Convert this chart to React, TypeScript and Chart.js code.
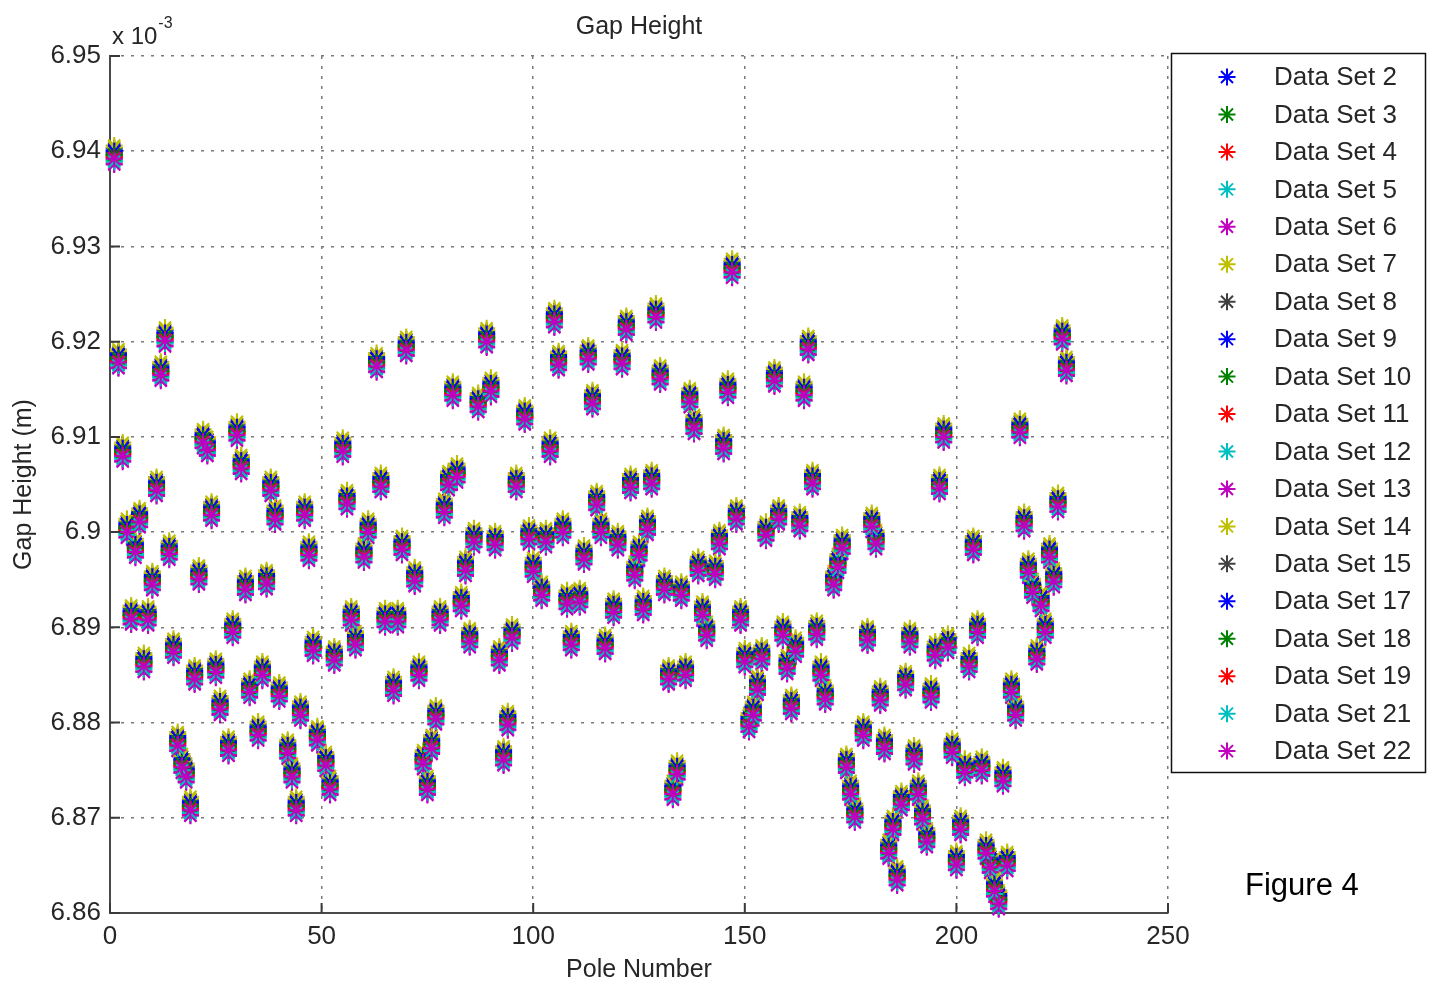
import React, { useEffect, useRef } from "react";
import { Chart, registerables } from "chart.js";

Chart.register(...registerables);

const FONT = '"Liberation Sans", Arial, Helvetica, sans-serif';

// Pole index along the magnet array
const poleNumbers = [
  1, 2, 3, 4, 5, 6, 7, 8, 9, 10, 11, 12, 13, 14, 15, 16, 17, 18, 19, 20,
  21, 22, 23, 24, 25, 26, 28, 29, 30, 31, 32, 33, 35, 36, 37, 38, 39, 40, 42, 43,
  44, 45, 46, 47, 48, 49, 51, 52, 53, 55, 56, 57, 58, 60, 61, 63, 64, 65, 67, 68,
  69, 70, 72, 73, 74, 75, 76, 77, 78, 79, 80, 81, 82, 83, 84, 85, 86, 87, 89, 90,
  91, 92, 93, 94, 95, 96, 98, 99, 100, 102, 103, 104, 105, 106, 107, 108, 109, 111, 112, 113,
  114, 115, 116, 117, 119, 120, 121, 122, 123, 124, 125, 126, 127, 128, 129, 130, 131, 132, 133, 134,
  135, 136, 137, 138, 139, 140, 141, 143, 144, 145, 146, 147, 148, 149, 150, 151, 152, 153, 154, 155,
  157, 158, 159, 160, 161, 162, 163, 164, 165, 166, 167, 168, 169, 171, 172, 173, 174, 175, 176, 178,
  179, 180, 181, 182, 183, 184, 185, 186, 187, 188, 189, 190, 191, 192, 193, 194, 195, 196, 197, 198,
  199, 200, 201, 202, 203, 204, 205, 206, 207, 208, 209, 210, 211, 212, 213, 214, 215, 216, 217, 218,
  219, 220, 221, 222, 223, 224, 225, 226,
];

// Mean gap height at each pole (x 10^-3 m)
const gapHeight = [
  6.9394, 6.918, 6.9082, 6.9002, 6.8911, 6.8981, 6.9013, 6.8861, 6.891, 6.8947,
  6.9046, 6.9167, 6.9203, 6.8979, 6.8876, 6.8778, 6.8755, 6.8745, 6.871, 6.8848,
  6.8953, 6.9096, 6.9088, 6.902, 6.8855, 6.8816, 6.8773, 6.8897, 6.9104, 6.9069,
  6.8942, 6.8834, 6.8789, 6.8852, 6.8948, 6.9046, 6.9016, 6.883, 6.877, 6.8745,
  6.871, 6.881, 6.902, 6.8978, 6.8878, 6.8784, 6.8757, 6.8732, 6.8868, 6.9087,
  6.9032, 6.891, 6.8884, 6.8976, 6.9002, 6.9176, 6.905, 6.8908, 6.8836, 6.8908,
  6.8984, 6.9193, 6.8951, 6.8852, 6.8759, 6.8732, 6.8775, 6.8806, 6.891, 6.9023,
  6.9052, 6.9146, 6.906, 6.8925, 6.8962, 6.8887, 6.8992, 6.9134, 6.9202, 6.915,
  6.8989, 6.8868, 6.8763, 6.88, 6.8891, 6.905, 6.9121, 6.8995, 6.8961, 6.8936,
  6.8992, 6.9087, 6.9223, 6.9178, 6.9002, 6.8927, 6.8884, 6.8929, 6.8974, 6.9184,
  6.9137, 6.9031, 6.9002, 6.888, 6.8918, 6.8989, 6.9179, 6.9215, 6.9049, 6.8957,
  6.8978, 6.8921, 6.9005, 6.9053, 6.9228, 6.9163, 6.8942, 6.8848, 6.8727, 6.8748,
  6.8936, 6.8852, 6.9139, 6.9111, 6.8962, 6.8915, 6.8894, 6.8958, 6.899, 6.909,
  6.9149, 6.9275, 6.9016, 6.891, 6.8866, 6.8798, 6.881, 6.8837, 6.8869, 6.8999,
  6.9161, 6.9016, 6.8894, 6.8859, 6.8817, 6.8877, 6.9009, 6.9146, 6.9194, 6.9053,
  6.8895, 6.8852, 6.8827, 6.8947, 6.8965, 6.8985, 6.8755, 6.8727, 6.8703, 6.8789,
  6.8889, 6.9008, 6.899, 6.8826, 6.8775, 6.8665, 6.869, 6.8637, 6.8716, 6.8842,
  6.8887, 6.8764, 6.8727, 6.8701, 6.8677, 6.8829, 6.8873, 6.9048, 6.9102, 6.8881,
  6.8771, 6.8653, 6.869, 6.875, 6.8861, 6.8984, 6.8897, 6.8752, 6.8665, 6.865,
  6.8625, 6.8612, 6.8741, 6.8652, 6.8834, 6.881, 6.9107, 6.9009, 6.896, 6.8939,
  6.8869, 6.8925, 6.8897, 6.8976, 6.895, 6.9029, 6.9205, 6.9172,
];

const dataSetNames = [
  "Data Set 2", "Data Set 3", "Data Set 4", "Data Set 5", "Data Set 6",
  "Data Set 7", "Data Set 8", "Data Set 9", "Data Set 10", "Data Set 11",
  "Data Set 12", "Data Set 13", "Data Set 14", "Data Set 15", "Data Set 17",
  "Data Set 18", "Data Set 19", "Data Set 21", "Data Set 22",
];

// Run-to-run shift of each data set relative to the pole mean (x 10^-3 m)
const dataSetShift = [
  0.0009, 0.0004, 0.0001, -0.0004, -0.0008, 0.0012, 0.0005, 0.0007, 0.0003, 0.0,
  -0.0003, -0.0007, 0.001, 0.0002, 0.0006, 0.0002, -0.0001, -0.0005, -0.0002,
];

const dataSetColors = [
  "#0000ff", "#008000", "#ff0000", "#00bfbf", "#bf00bf", "#bfbf00", "#404040",
  "#0000ff", "#008000", "#ff0000", "#00bfbf", "#bf00bf", "#bfbf00", "#404040",
  "#0000ff", "#008000", "#ff0000", "#00bfbf", "#bf00bf",
];

const xTicks = [0, 50, 100, 150, 200, 250];
const yTicks = [6.86, 6.87, 6.88, 6.89, 6.9, 6.91, 6.92, 6.93, 6.94, 6.95];

const W = 1434;
const H = 986;

function drawStar(ctx: CanvasRenderingContext2D, x: number, y: number, r: number) {
  ctx.beginPath();
  for (let k = 0; k < 4; k++) {
    const a = (k * Math.PI) / 4;
    const dx = Math.cos(a) * r;
    const dy = Math.sin(a) * r;
    ctx.moveTo(x - dx, y - dy);
    ctx.lineTo(x + dx, y + dy);
  }
  ctx.stroke();
}

const decorations = {
  id: "decorations",
  afterDraw(chart: any) {
    const { ctx, chartArea: a, scales } = chart;
    ctx.save();

    // inward tick marks on the left and bottom axes
    ctx.strokeStyle = "#3a3a3a";
    ctx.lineWidth = 2;
    ctx.beginPath();
    yTicks.forEach((v) => {
      const y = scales.y.getPixelForValue(v);
      ctx.moveTo(a.left, y);
      ctx.lineTo(a.left + 10, y);
    });
    xTicks.forEach((v) => {
      const x = scales.x.getPixelForValue(v);
      ctx.moveTo(x, a.bottom);
      ctx.lineTo(x, a.bottom - 10);
    });
    ctx.stroke();

    // titles
    const cx = (a.left + a.right) / 2;
    ctx.fillStyle = "#262626";
    ctx.font = `25px ${FONT}`;
    ctx.textAlign = "center";
    ctx.textBaseline = "middle";
    ctx.fillText("Gap Height", cx, 27);
    ctx.fillText("Pole Number", cx, 970);
    ctx.save();
    ctx.translate(24, (a.top + a.bottom) / 2);
    ctx.rotate(-Math.PI / 2);
    ctx.fillText("Gap Height (m)", 0, 0);
    ctx.restore();

    // axis multiplier
    ctx.textAlign = "left";
    ctx.textBaseline = "alphabetic";
    ctx.font = `24px ${FONT}`;
    ctx.fillText("x 10", 112, 44);
    const w = ctx.measureText("x 10").width;
    ctx.font = `16px ${FONT}`;
    ctx.fillText("-3", 112 + w + 1, 28);

    // legend
    const lx = 1171;
    const ly = 53;
    ctx.fillStyle = "#ffffff";
    ctx.fillRect(lx, ly, 254, 719);
    ctx.strokeStyle = "#111111";
    ctx.lineWidth = 1.5;
    ctx.strokeRect(lx + 0.5, ly + 0.5, 254, 719);
    ctx.font = `26px ${FONT}`;
    ctx.textBaseline = "middle";
    dataSetNames.forEach((name, i) => {
      const y = 77 + i * 37.45;
      ctx.strokeStyle = dataSetColors[i];
      ctx.lineWidth = 2;
      drawStar(ctx, 1227, y, 8.5);
      ctx.fillStyle = "#262626";
      ctx.fillText(name, 1274, y + 1);
    });

    // figure caption
    ctx.fillStyle = "#000000";
    ctx.font = `31px ${FONT}`;
    ctx.fillText("Figure 4", 1245, 886);

    ctx.restore();
  },
};

export default function App() {
  const canvasRef = useRef<HTMLCanvasElement | null>(null);

  useEffect(() => {
    const canvas = canvasRef.current;
    if (!canvas) return;
    const n = dataSetNames.length;
    const datasets = dataSetNames.map((name, k) => ({
      label: name,
      data: poleNumbers.map((p, i) => ({ x: p, y: gapHeight[i] + dataSetShift[k] })),
      pointStyle: "star" as const,
      pointRadius: 8.5,
      pointHoverRadius: 8.5,
      borderWidth: 2,
      borderColor: dataSetColors[k],
      backgroundColor: dataSetColors[k],
      showLine: false,
      clip: false as any,
      order: n - k,
    }));

    const chart = new Chart(canvas, {
      type: "scatter",
      data: { datasets },
      plugins: [decorations],
      options: {
        responsive: false,
        animation: false,
        devicePixelRatio: 1,
        layout: { padding: { left: 0, right: 266, top: 56, bottom: 0 } },
        plugins: {
          legend: { display: false },
          tooltip: { enabled: false },
          title: { display: false },
        },
        events: [],
        scales: {
          x: {
            type: "linear",
            min: 0,
            max: 250,
            afterBuildTicks: (scale: any) => {
              scale.ticks = xTicks.map((value) => ({ value }));
            },
            afterFit: (scale: any) => {
              scale.height = 73;
            },
            ticks: {
              font: { family: FONT, size: 26 },
              color: "#262626",
              padding: 8,
              maxRotation: 0,
            },
            grid: { drawTicks: false, color: "#7a7a7a", lineWidth: 1.5 },
            border: { display: true, color: "#4a4a4a", width: 2, dash: [3, 7] },
          },
          y: {
            type: "linear",
            min: 6.86,
            max: 6.95,
            afterBuildTicks: (scale: any) => {
              scale.ticks = yTicks.map((value) => ({ value }));
            },
            afterFit: (scale: any) => {
              scale.width = 110;
            },
            ticks: {
              font: { family: FONT, size: 26 },
              color: "#262626",
              padding: 9,
              callback: (v: any) => String(parseFloat(Number(v).toFixed(2))),
            },
            grid: { drawTicks: false, color: "#7a7a7a", lineWidth: 1.5 },
            border: { display: true, color: "#4a4a4a", width: 2, dash: [3, 7] },
          },
        },
      },
    });
    return () => chart.destroy();
  }, []);

  return (
    <div style={{ position: "absolute", left: 0, top: 0, width: W, height: H, background: "#ffffff" }}>
      <canvas ref={canvasRef} width={W} height={H} style={{ display: "block" }} />
    </div>
  );
}
